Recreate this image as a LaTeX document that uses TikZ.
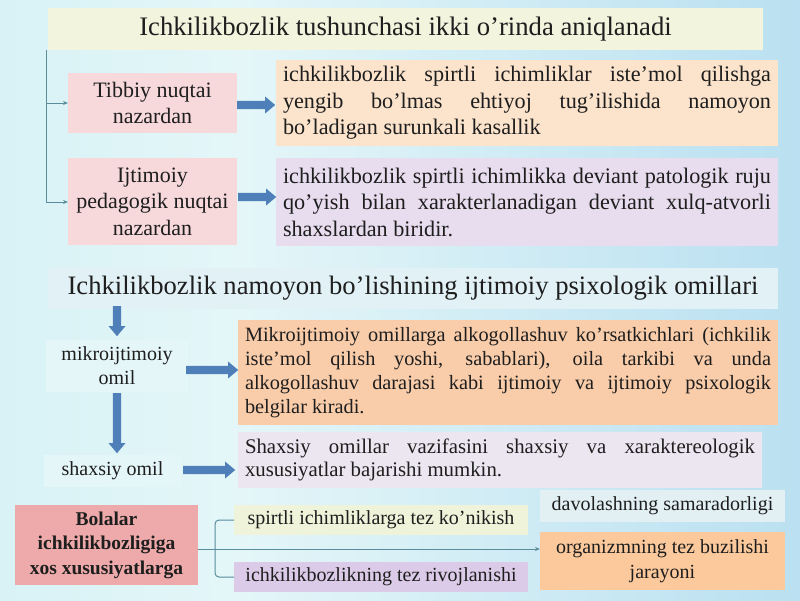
\documentclass[tikz,border=0pt]{standalone}
\usepackage{fontspec}
\setmainfont{Liberation Serif}
\usetikzlibrary{arrows.meta,shapes.arrows}
\definecolor{bgA}{HTML}{C4ECF2}
\definecolor{bgB}{HTML}{E4F6F8}
\definecolor{bgC}{HTML}{B4DDF0}
\definecolor{bgD}{HTML}{5A9BD8}
\definecolor{titleA}{HTML}{F2F4DE}
\definecolor{titleB}{HTML}{E2F1F6}
\definecolor{pinkbox}{HTML}{F7D9DC}
\definecolor{peach}{HTML}{FCE3CC}
\definecolor{lav}{HTML}{E8DDEE}
\definecolor{orangebox}{HTML}{F9CCAA}
\definecolor{lavB}{HTML}{ECE6F0}
\definecolor{salmon}{HTML}{EEAAAA}
\definecolor{yelbox}{HTML}{EEF3DA}
\definecolor{lavC}{HTML}{DCCBE8}
\definecolor{paleB}{HTML}{E2F0F4}
\definecolor{orangeC}{HTML}{FBC99C}
\definecolor{arrblue}{HTML}{4F7FB8}
\definecolor{linec}{HTML}{5A8C9C}
\definecolor{txt}{HTML}{1E1E1E}
\pgfdeclarehorizontalshading{bgshade}{100bp}{color(0bp)=(bgA); color(40bp)=(bgB); color(80bp)=(bgC); color(96bp)=(bgD); color(100bp)=(bgD)}
\tikzset{
  box/.style={fill=#1, inner sep=0pt, outer sep=0pt, text=txt},
  fatarrow/.style={single arrow, fill=arrblue, draw=none, minimum height=#1,
     single arrow head extend=3.5pt, single arrow tip angle=80, minimum width=17pt, inner sep=3pt},
  thinline/.style={draw=linec, line width=1pt},
}
\begin{document}
\begin{tikzpicture}[x=1pt,y=-1pt]
\useasboundingbox (0,0) rectangle (800,600);
\shade[shading=bgshade] (0,0) rectangle (800,600);
\node[box=titleA, minimum width=715pt, minimum height=42pt, anchor=north west,
  font=\fontsize{26.7}{30}\selectfont] (t1) at (48,8) {Ichkilikbozlik tushunchasi ikki o’rinda aniqlanadi};
\node[box=pinkbox, minimum width=169pt, minimum height=60pt, anchor=north west, align=center,
  font=\fontsize{22}{26}\selectfont] (tib) at (68,73) {Tibbiy nuqtai\\nazardan};
\node[box=peach, minimum width=502pt, minimum height=86pt, anchor=north west, text width=488pt, align=justify,
  font=\fontsize{22.2}{26.5}\selectfont] (r1) at (276,60) {ichkilikbozlik spirtli ichimliklar iste’mol qilishga\linebreak yengib bo’lmas ehtiyoj tug’ilishida namoyon\linebreak bo’ladigan surunkali kasallik};
\node[box=pinkbox, minimum width=169pt, minimum height=87pt, anchor=north west, align=center,
  font=\fontsize{22}{26.5}\selectfont] (ijt) at (68,158) {Ijtimoiy\\pedagogik nuqtai\\nazardan};
\node[box=lav, minimum width=502pt, minimum height=88pt, anchor=north west, text width=488pt, align=justify,
  font=\fontsize{22.2}{26.5}\selectfont] (r2) at (276,158) {ichkilikbozlik spirtli ichimlikka deviant patologik ruju\linebreak qo’yish bilan xarakterlanadigan deviant xulq-atvorli\linebreak shaxslardan biridir.};
\coordinate (vtop) at (46,50);
\coordinate (v1) at (46,103);
\coordinate (v2) at (46,202);
\draw[thinline] (vtop) -- (v2);
\draw[thinline,-{Stealth[length=5pt,width=4pt]}] (v1) -- (tib.west |- v1);
\draw[thinline,-{Stealth[length=5pt,width=4pt]}] (v2) -- (ijt.west |- v2);
\node[fatarrow=38pt, anchor=tail] (a1) at (237,105) {};
\node[fatarrow=38pt, anchor=tail] (a2) at (238,197) {};
% section 2
\node[box=titleB, minimum width=730pt, minimum height=41pt, anchor=north west,
  font=\fontsize{26.6}{30}\selectfont] (t2) at (48,268) {Ichkilikbozlik namoyon bo’lishining ijtimoiy psixologik omillari};
\node[box=bgB, minimum width=142pt, minimum height=52pt, anchor=north west, align=center,
  font=\fontsize{20}{24}\selectfont] (mik) at (46,340) {mikroijtimoiy\\omil};
\node[box=bgB, minimum width=137pt, minimum height=32pt, anchor=north west, align=center,
  font=\fontsize{20}{24}\selectfont] (sha) at (44,455) {shaxsiy omil};
\node[box=orangebox, minimum width=540pt, minimum height=105pt, anchor=north west, text width=526pt, align=justify,
  font=\fontsize{20.3}{23.8}\selectfont] (r3) at (238,320) {Mikroijtimoiy omillarga alkogollashuv ko’rsatkichlari (ichkilik\linebreak iste’mol qilish yoshi, sabablari), oila tarkibi va unda\linebreak alkogollashuv darajasi kabi ijtimoiy va ijtimoiy psixologik\linebreak belgilar kiradi.};
\node[box=lavB, minimum width=524pt, minimum height=56pt, anchor=north west, text width=510pt, align=justify,
  font=\fontsize{20.8}{23.5}\selectfont] (r4) at (238,432) {Shaxsiy omillar vazifasini shaxsiy va xaraktereologik\linebreak xususiyatlar bajarishi mumkin.};
\node[fatarrow=30pt, anchor=tail, rotate=-90] (d1) at (117,306) {};
\node[fatarrow=60pt, anchor=tail, rotate=-90] (d2) at (117,393) {};
\node[fatarrow=52pt, anchor=tail] (a3) at (186,370) {};
\node[fatarrow=52pt, anchor=tail] (a4) at (183,470) {};
% section 3
\node[box=salmon, minimum width=183pt, minimum height=80pt, anchor=north west, align=center,
  font=\bfseries\fontsize{19.5}{24.5}\selectfont] (bol) at (15,505) {Bolalar\\ichkilikbozligiga\\xos xususiyatlarga};
\node[box=yelbox, minimum width=294pt, minimum height=30pt, anchor=north west,
  font=\fontsize{20}{22}\selectfont] (spi) at (234,505) {spirtli ichimliklarga tez ko’nikish};
\node[box=lavC, minimum width=294pt, minimum height=30pt, anchor=north west,
  font=\fontsize{20}{22}\selectfont] (ich) at (234,562) {ichkilikbozlikning tez rivojlanishi};
\node[box=paleB, minimum width=245pt, minimum height=32pt, anchor=north west,
  font=\fontsize{20}{22}\selectfont] (dav) at (540,490) {davolashning samaradorligi};
\node[box=orangeC, minimum width=245pt, minimum height=58pt, anchor=north west, align=center,
  font=\fontsize{20}{24.5}\selectfont] (org) at (540,532) {organizmning tez buzilishi\\jarayoni};
\coordinate (bx) at (215,549);
\draw[thinline,-{Stealth[length=5pt,width=4pt]}] (bol.east |- bx) -- (org.west |- bx);
\draw[thinline, rounded corners=4pt] (spi.west) -- (bx |- spi.west) -- (bx |- ich.west) -- (ich.west);
\end{tikzpicture}
\end{document}
